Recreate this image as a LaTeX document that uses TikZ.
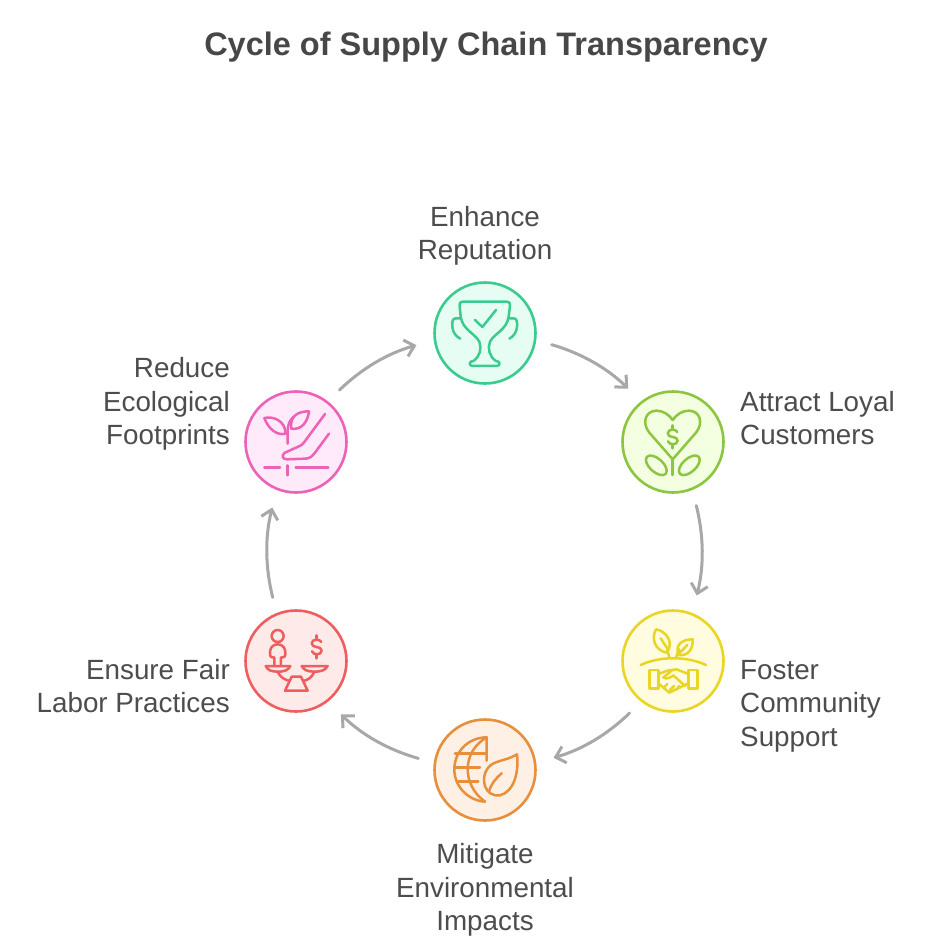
\documentclass[tikz,border=0pt]{standalone}
\usepackage{fontspec}
\setmainfont{Liberation Sans}
\usetikzlibrary{arrows.meta}
\definecolor{txt}{HTML}{4D4D4D}
\definecolor{ttl}{HTML}{474747}
\definecolor{arr}{HTML}{A8A8A8}
\definecolor{gS}{HTML}{3CCB8E}\definecolor{gF}{HTML}{E6FDF3}
\definecolor{lS}{HTML}{8CC641}\definecolor{lF}{HTML}{F3FFE0}
\definecolor{yS}{HTML}{E9D523}\definecolor{yF}{HTML}{FFFCE0}
\definecolor{oS}{HTML}{E88F3C}\definecolor{oF}{HTML}{FEF0E4}
\definecolor{rS}{HTML}{EE5E5E}\definecolor{rF}{HTML}{FFEAEA}
\definecolor{pS}{HTML}{EC62B6}\definecolor{pF}{HTML}{FFEAF9}
\tikzset{
  stage/.style={circle,draw=#1S,fill=#1F,line width=2.6pt,minimum size=101pt,inner sep=0pt},
  label/.style={text=txt,inner sep=0pt,font=\fontsize{27.8}{33.5}\selectfont},
  flow/.style={draw=arr,line width=3pt,line cap=round,-{Straight Barb[length=9pt,width=17pt,line width=3pt]},shorten <=16pt,shorten >=18pt},
  icon/.style={line width=2.5pt,line cap=round,line join=round,draw=#1},
  zoomed/.style={shift={(#1)},x=0.3333pt,y=-0.3333pt},
  dollar/.pic={
    \path[pic actions] (14,-14) .. controls (10,-24) and (-14,-24) .. (-15,-10) .. controls (-15,6) and (15,-4) .. (15,12) .. controls (14,26) and (-10,26) .. (-14,14);
    \path[pic actions] (0,-34) -- (0,-22) (0,24) -- (0,35);
  }
}
\begin{document}
\begin{tikzpicture}[x=1pt,y=-1pt]
\useasboundingbox (0,0) rectangle (952,944);
\fill[white] (0,0) rectangle (952,944);
\node[text=ttl,inner sep=0pt,font=\fontsize{32.5}{38}\selectfont\bfseries] (title) at (486,47) {Cycle of Supply Chain Transparency};

\node[stage=g] (n1) at (485,333) {};
\node[stage=l] (n2) at (673,442) {};
\node[stage=y] (n3) at (673,661) {};
\node[stage=o] (n4) at (485,770) {};
\node[stage=r] (n5) at (296,661) {};
\node[stage=p] (n6) at (296,442) {};

\node[label,align=center] (l1) at (485,236) {Enhance\\Reputation};
\node[label,align=left,anchor=west] (l2) at (740,418) {Attract Loyal\\Customers};
\node[label,align=left,anchor=west] (l3) at (740,706) {Foster\\Community\\Support};
\node[label,align=center] (l4) at (485,890) {Mitigate\\Environmental\\Impacts};
\node[label,align=right,anchor=east] (l5) at (230,686) {Ensure Fair\\Labor Practices};
\node[label,align=right,anchor=east] (l6) at (230,404) {Reduce\\Ecological\\Footprints};

\foreach \a/\s/\b/\e in {n1/-8/n2/128,n2/-68/n3/68,n3/-128/n4/8,n4/172/n5/-52,n5/112/n6/248,n6/52/n1/188}
  \draw[flow] (\a.\s) to[bend left=14] (\b.\e);

% trophy
\begin{scope}[zoomed={420,285},icon=gS]
\draw (194,50) -- (128,50) .. controls (120,50) and (118,54) .. (119,62) -- (122,95) .. controls (128,135) and (165,145) .. (178,170) .. controls (186,190) and (180,215) .. (160,228) .. controls (146,228) and (146,243) .. (158,243) -- (230,243) .. controls (242,243) and (242,228) .. (228,228) .. controls (208,215) and (202,190) .. (210,170) .. controls (223,145) and (260,135) .. (266,95) -- (270,62) .. controls (271,54) and (268,50) .. (260,50) -- cycle;
\draw (120,100) -- (108,100) .. controls (97,100) and (96,110) .. (97,125) .. controls (98,142) and (108,155) .. (121,161);
\draw (268,100) -- (280,100) .. controls (291,100) and (292,110) .. (291,125) .. controls (290,142) and (280,155) .. (268,161);
\draw (165,105) -- (187,126) -- (228,75);
\end{scope}
% heart
\begin{scope}[zoomed={610,380},icon=lS]
\draw (188,238) -- (118,158) .. controls (95,130) and (105,92) .. (140,92) .. controls (160,92) and (178,105) .. (188,120) .. controls (198,105) and (216,92) .. (236,92) .. controls (271,92) and (281,130) .. (258,158) -- cycle;
\draw (188,238) -- (188,285);
\pic[icon=lS] at (188,170) {dollar};
\draw[rotate around={-42:(139,256)}] (139,256) ellipse [x radius=38, y radius=20];
\draw[rotate around={42:(238,256)}] (238,256) ellipse [x radius=38, y radius=20];
\end{scope}
% handshake and plant
\begin{scope}[zoomed={610,600},icon=yS]
\draw (92,195) .. controls (150,168) and (230,168) .. (288,195);
\draw (178,172) -- (172,150) (198,172) -- (208,148);
\draw (170,158) .. controls (130,150) and (125,110) .. (138,88) .. controls (165,92) and (195,125) .. (170,158) ;
\draw (205,165) .. controls (195,135) and (215,118) .. (248,118) .. controls (250,145) and (235,170) .. (205,165);
\draw (152,115) -- (175,150) (232,135) -- (208,160);
\draw (118,210) rectangle (145,265);
\draw (235,210) rectangle (262,265);
\draw (145,222) -- (172,212) -- (200,208) -- (235,222);
\draw (145,250) -- (178,278) -- (235,250);
\draw (185,212) -- (160,232) .. controls (170,240) and (182,232) .. (190,226) -- (225,258);
\draw (162,262) -- (172,252) (180,270) -- (192,258) (200,268) -- (208,258);
\end{scope}
% globe and leaf
\begin{scope}[zoomed={425,710},icon=oS]
\draw (185,152) -- (185,82) .. controls (130,82) and (88,125) .. (88,178) .. controls (88,230) and (130,272) .. (180,275);
\draw (185,82) .. controls (110,125) and (110,225) .. (180,275);
\draw (90,130) -- (182,130) (88,173) -- (165,173) (95,215) -- (160,215);
\draw (276,133) .. controls (240,155) and (205,150) .. (188,175) .. controls (165,205) and (178,262) .. (225,256) .. controls (268,245) and (282,185) .. (276,133);
\draw (192,245) .. controls (198,222) and (212,205) .. (230,190);
\end{scope}
% scales
\begin{scope}[zoomed={235,600},icon=rS]
\draw (128,108) circle [radius=18];
\draw (118,196) -- (118,172) -- (112,172) .. controls (104,172) and (104,160) .. (106,150) .. controls (108,138) and (120,133) .. (128,133) .. controls (136,133) and (148,138) .. (150,150) .. controls (152,160) and (152,172) .. (144,172) -- (138,172) -- (138,196);
\draw (92,198) -- (166,198) .. controls (160,210) and (150,215) .. (128,215) .. controls (108,215) and (98,210) .. (92,198) -- cycle;
\draw (200,198) -- (278,198) .. controls (272,210) and (260,215) .. (238,215) .. controls (218,215) and (206,210) .. (200,198) -- cycle;
\draw (128,215) .. controls (135,232) and (150,240) .. (165,243);
\draw (238,215) .. controls (232,232) and (218,240) .. (205,243);
\draw (170,230) -- (198,230) -- (218,272) -- (150,272) -- cycle;
\pic[icon=rS] at (245,140) {dollar};
\end{scope}
% plant and hand
\begin{scope}[zoomed={235,382},icon=pS]
\draw (88,257) -- (135,257) (158,250) -- (158,280) (182,257) -- (280,257);
\draw (158,185) -- (158,150) .. controls (158,125) and (165,115) .. (175,105);
\draw (88,108) .. controls (115,102) and (150,115) .. (152,155) .. controls (125,162) and (100,140) .. (88,108);
\draw (222,88) .. controls (190,88) and (165,100) .. (168,140) .. controls (200,145) and (218,120) .. (222,88);
\draw (270,96) -- (208,180) .. controls (200,190) and (195,193) .. (185,196) -- (150,212) .. controls (138,220) and (142,232) .. (156,232) -- (210,230) .. controls (225,230) and (232,222) .. (240,212) -- (282,155);
\end{scope}
\end{tikzpicture}
\end{document}
